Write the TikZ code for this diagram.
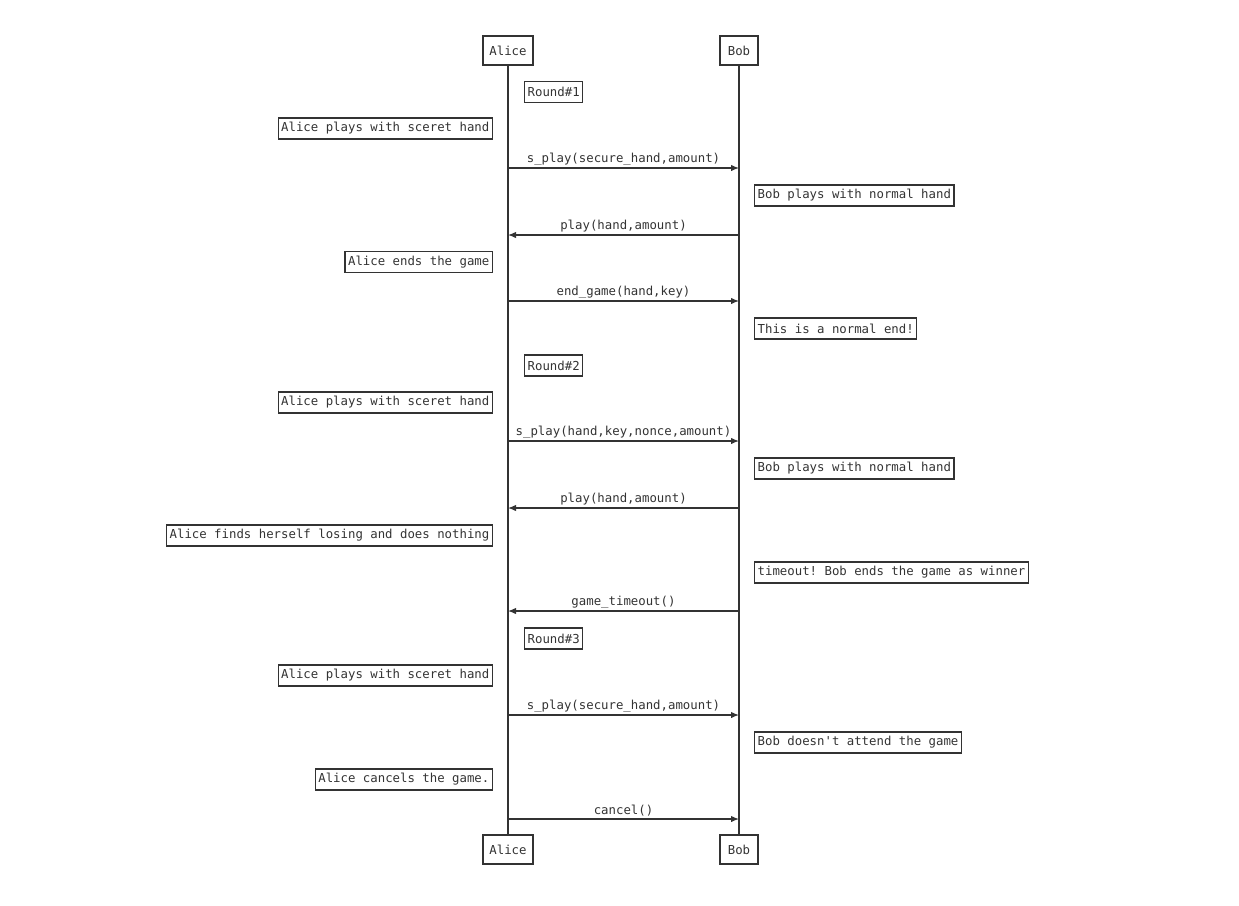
\documentclass[tikz,border=0pt]{standalone}
\usepackage{fontspec}
\setmonofont{DejaVu Sans Mono}
\usetikzlibrary{arrows.meta}
\definecolor{ink}{HTML}{333333}

\begin{document}
\begin{tikzpicture}[x=1pt, y=-1pt, line width=1.3pt, draw=ink, text=ink,
  font=\ttfamily\fontsize{12.35}{14}\selectfont,
  actor/.style={draw, inner xsep=6.5pt, minimum width=38pt, minimum height=29pt},
  note/.style={draw, inner xsep=3pt, inner ysep=0pt, minimum height=21pt},
  msg/.style={-{Latex[length=8pt,width=6.5pt]}},
  lbl/.style={above, inner sep=2pt}]
\useasboundingbox (0,0) rectangle (1239,905);

\node[actor] (aliceT) at (508, 50.5) {Alice};
\node[actor] (bobT) at (739, 50.5) {Bob};
\node[actor] (aliceB) at (508, 849.5) {Alice};
\node[actor] (bobB) at (739, 849.5) {Bob};

\draw (aliceT) -- (aliceB);
\draw (bobT) -- (bobB);

% round 1
\node[note, anchor=west] (r1) at (524, 92) {Round\#1};
\node[note, anchor=east] (n1) at (493, 128.5) {Alice plays with sceret hand};
\coordinate (m1a) at (508, 168);
\coordinate (m1b) at (739, 168);
\draw[msg] (m1a) -- node[lbl] {s\_play(secure\_hand,amount)} (m1b);
\node[note, anchor=west] (n2) at (754, 195.5) {Bob plays with normal hand};
\coordinate (m2a) at (508, 235);
\coordinate (m2b) at (739, 235);
\draw[msg] (m2b) -- node[lbl] {play(hand,amount)} (m2a);
\node[note, anchor=east] (n3) at (493, 262) {Alice ends the game};
\coordinate (m3a) at (508, 301);
\coordinate (m3b) at (739, 301);
\draw[msg] (m3a) -- node[lbl] {end\_game(hand,key)} (m3b);
\node[note, anchor=west] (n4) at (754, 328.5) {This is a normal end!};

% round 2
\node[note, anchor=west] (r2) at (524, 365.5) {Round\#2};
\node[note, anchor=east] (n5) at (493, 402.5) {Alice plays with sceret hand};
\coordinate (m4a) at (508, 441);
\coordinate (m4b) at (739, 441);
\draw[msg] (m4a) -- node[lbl] {s\_play(hand,key,nonce,amount)} (m4b);
\node[note, anchor=west] (n6) at (754, 468.5) {Bob plays with normal hand};
\coordinate (m5a) at (508, 508);
\coordinate (m5b) at (739, 508);
\draw[msg] (m5b) -- node[lbl] {play(hand,amount)} (m5a);
\node[note, anchor=east] (n7) at (493, 535.5) {Alice finds herself losing and does nothing};
\node[note, anchor=west] (n8) at (754, 572.5) {timeout! Bob ends the game as winner};
\coordinate (m6a) at (508, 611);
\coordinate (m6b) at (739, 611);
\draw[msg] (m6b) -- node[lbl] {game\_timeout()} (m6a);

% round 3
\node[note, anchor=west] (r3) at (524, 638.5) {Round\#3};
\node[note, anchor=east] (n9) at (493, 675.5) {Alice plays with sceret hand};
\coordinate (m7a) at (508, 715);
\coordinate (m7b) at (739, 715);
\draw[msg] (m7a) -- node[lbl] {s\_play(secure\_hand,amount)} (m7b);
\node[note, anchor=west] (n10) at (754, 742.5) {Bob doesn't attend the game};
\node[note, anchor=east] (n11) at (493, 779.5) {Alice cancels the game.};
\coordinate (m8a) at (508, 819);
\coordinate (m8b) at (739, 819);
\draw[msg] (m8a) -- node[lbl] {cancel()} (m8b);
\end{tikzpicture}
\end{document}
